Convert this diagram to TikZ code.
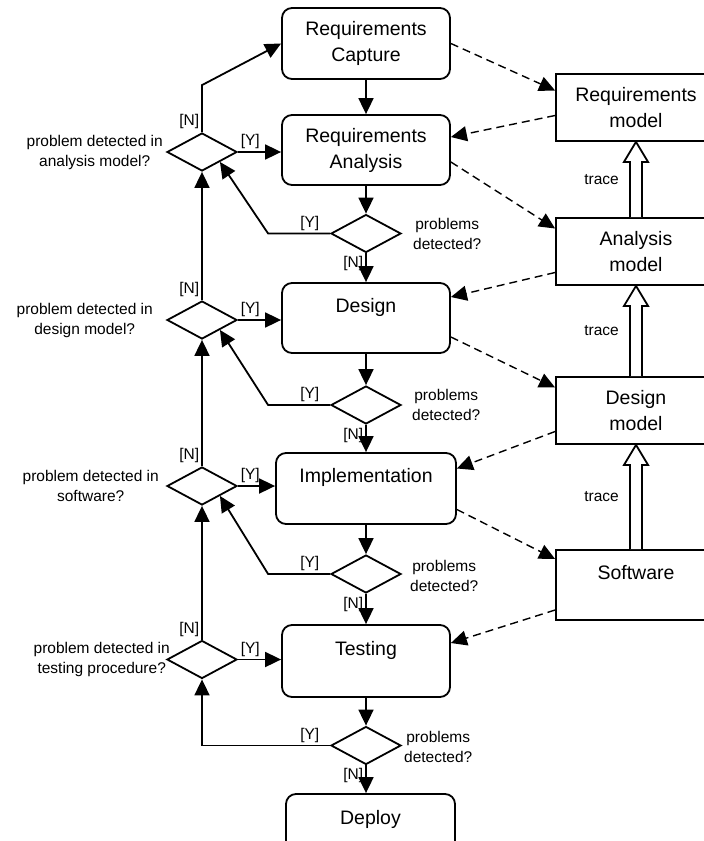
\documentclass[tikz,border=0pt]{standalone}
\usepackage{fontspec}
\setmainfont{Liberation Sans}
\usetikzlibrary{shapes.geometric,arrows.meta,calc}
\newcommand\bigtxt{\fontsize{19.5}{26}\selectfont}
\newcommand\smalltxt{\fontsize{15.5}{20}\selectfont}

\begin{document}
\begin{tikzpicture}[x=1pt,y=-1pt,
  activity/.style={draw,rounded corners=10pt,line width=1.8pt,minimum width=168pt,minimum height=71pt,inner sep=0pt,align=center,font=\bigtxt},
  model/.style={draw,line width=1.8pt,minimum width=160pt,minimum height=67pt,inner sep=0pt,align=center,font=\bigtxt},
  decision/.style={draw,diamond,line width=1.8pt,minimum width=70pt,minimum height=38pt,inner sep=0pt},
  question/.style={align=center,font=\smalltxt,inner sep=0pt},
  guard/.style={font=\smalltxt,inner sep=2pt},
  flow/.style={line width=1.8pt,-{Triangle[length=16pt,width=15pt]}},
  usage/.style={flow,line width=1.4pt,dash pattern=on 8pt off 5pt},
  tracearrow/.style={draw,fill=white,line width=1.8pt}]
\useasboundingbox (0,0) rectangle (704,841);
%----activities---------------------------------
\node[activity] (capture) at (366,43.5) {Requirements\\Capture};
\node[activity,minimum height=70pt] (analysis) at (366,150) {Requirements\\Analysis};
\node[activity,minimum height=70pt] (design) at (366,318) {Design\\\mbox{}};
\node[activity,minimum width=180pt] (impl) at (366,488.5) {Implementation\\\mbox{}};
\node[activity,minimum height=72pt] (testing) at (366,661) {Testing\\\mbox{}};
\node[activity,minimum width=169pt,minimum height=72pt] (deploy) at (370.5,830) {Deploy\\\mbox{}};
%----models-------------------------------------
\node[model] (reqm) at (636,107.5) {Requirements\\model};
\node[model] (anam) at (636,251.5) {Analysis\\model};
\node[model] (desm) at (636,410.5) {Design\\model};
\node[model,minimum height=70pt] (soft) at (636,585) {Software\\\mbox{}};
%----decisions----------------------------------
\node[decision] (d1) at (366,233.5) {};
\node[decision] (d2) at (366,405) {};
\node[decision] (d3) at (366,574) {};
\node[decision] (d4) at (366,745.5) {};
\node[decision] (l1) at (202,152) {};
\node[decision] (l2) at (202,320) {};
\node[decision] (l3) at (202,486) {};
\node[decision] (l4) at (202,659.5) {};
%----questions----------------------------------
\node[question,anchor=east] (q1) at (163,152) {problem detected in\\analysis model?};
\node[question,anchor=east] (q2) at (153,320) {problem detected in\\design model?};
\node[question,anchor=east] (q3) at (159,486) {problem detected in\\software?};
\node[question,anchor=east] (q4) at (170,659.5) {problem detected in\\testing procedure?};
\node[question,anchor=west] (p1) at (413,233.5) {problems\\detected?};
\node[question,anchor=west] (p2) at (412,405) {problems\\detected?};
\node[question,anchor=west] (p3) at (410,576) {problems\\detected?};
\node[question,anchor=west] (p4) at (404,747) {problems\\detected?};
%----main flow----------------------------------
\draw[flow] (capture) -- (analysis);
\draw[flow] (analysis) -- (d1);
\draw[flow] (d1.south) node[guard,anchor=north east] (n1) {[N]} -- (design);
\draw[flow] (design) -- (d2);
\draw[flow] (d2.south) node[guard,anchor=north east] (n2) {[N]} -- (impl);
\draw[flow] (impl) -- (d3);
\draw[flow] (d3.south) node[guard,anchor=north east] (n3) {[N]} -- (testing);
\draw[flow] (testing) -- (d4);
\draw[flow] (d4.south) node[guard,anchor=north east] (n4) {[N]} -- (d4.south |- deploy.north);
%----problems detected: back to the checks-----
\draw[flow] (d1.west) node[guard,anchor=south east,xshift=-8pt] (y1) {[Y]} -- +(-62,0) -- (l1.south east);
\draw[flow] (d2.west) node[guard,anchor=south east,xshift=-8pt] (y2) {[Y]} -- +(-62,0) -- (l2.south east);
\draw[flow] (d3.west) node[guard,anchor=south east,xshift=-8pt] (y3) {[Y]} -- +(-62,0) -- (l3.south east);
\draw[flow] (d4.west) node[guard,anchor=south east,xshift=-8pt] (y4) {[Y]} -| (l4.south);
%----checks on the left-------------------------
\draw[flow] (l1.east) node[guard,anchor=south west] (ly1) {[Y]} -- (l1.east -| analysis.west);
\draw[flow] (l2.east) node[guard,anchor=south west] (ly2) {[Y]} -- (l2.east -| design.west);
\draw[flow] (l3.east) node[guard,anchor=south west] (ly3) {[Y]} -- (l3.east -| impl.west);
\draw[flow] (l4.east) node[guard,anchor=south west] (ly4) {[Y]} -- (l4.east -| testing.west);
\draw[flow] (l1.north) node[guard,anchor=south east] (ln1) {[N]} -- +(0,-47) -- (capture.west);
\draw[flow] (l2.north) node[guard,anchor=south east] (ln2) {[N]} -- (l1.south);
\draw[flow] (l3.north) node[guard,anchor=south east] (ln3) {[N]} -- (l2.south);
\draw[flow] (l4.north) node[guard,anchor=south east] (ln4) {[N]} -- (l3.south);
%----models used and produced-------------------
\draw[usage] (capture.east) -- ([yshift=17pt]reqm.west);
\draw[usage] ([yshift=-8pt]reqm.west) -- ([yshift=13pt]analysis.east);
\draw[usage] ([yshift=-12pt]analysis.east) -- ([yshift=23pt]anam.west);
\draw[usage] ([yshift=-21pt]anam.west) -- ([yshift=21pt]design.east);
\draw[usage] ([yshift=-19pt]design.east) -- ([yshift=23pt]desm.west);
\draw[usage] ([yshift=-21pt]desm.west) -- ([yshift=20pt]impl.east);
\draw[usage] ([yshift=-21pt]impl.east) -- ([yshift=26pt]soft.west);
\draw[usage] ([yshift=-25pt]soft.west) -- ([yshift=18pt]testing.east);
%----trace--------------------------------------
\foreach \a/\b in {anam/reqm,desm/anam,soft/desm}{
  \draw[tracearrow] ([xshift=-6pt]\a.north) -- ([xshift=-6pt,yshift=-20pt]\b.south)
    -- ([xshift=-12pt,yshift=-20pt]\b.south) -- (\b.south)
    -- ([xshift=12pt,yshift=-20pt]\b.south) -- ([xshift=6pt,yshift=-20pt]\b.south)
    -- ([xshift=6pt]\a.north);
  \node[font=\smalltxt,inner sep=0pt,anchor=east] (tr-\a) at ([xshift=-17pt]$(\a.north)!0.5!(\b.south)$) {trace};
}
\end{tikzpicture}
\end{document}
